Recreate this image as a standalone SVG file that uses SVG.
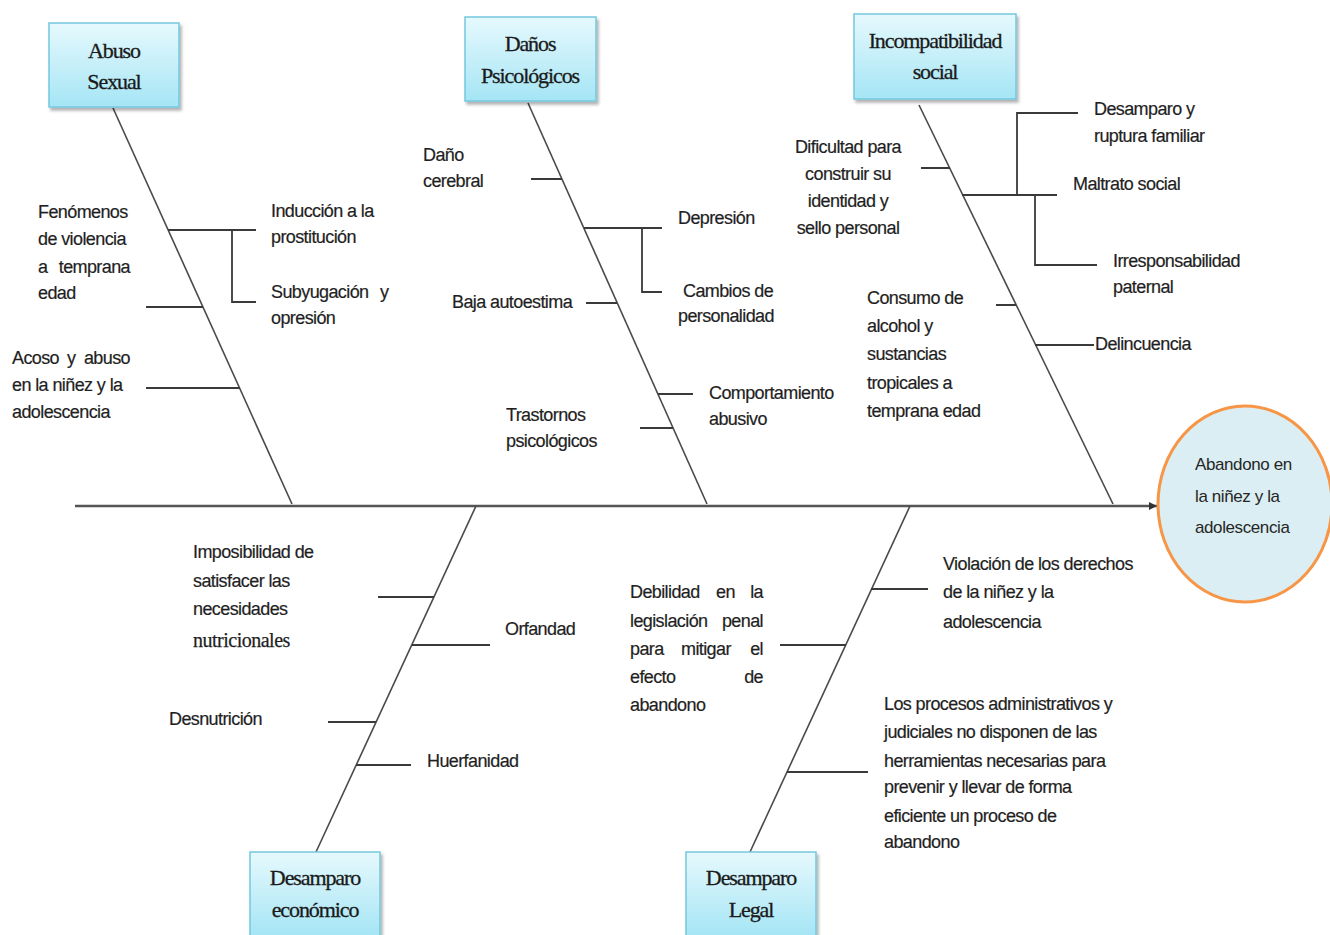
<svg xmlns="http://www.w3.org/2000/svg" width="1330" height="935" viewBox="0 0 1330 935">
<style>
.t{font-family:"Liberation Sans",Arial,sans-serif;font-size:18px;letter-spacing:-0.6px;fill:#1f1f1f;stroke:#1f1f1f;stroke-width:0.2}
.c{text-anchor:middle}
.e{text-anchor:end}
.bx{fill:url(#g);stroke:#74c7de;stroke-width:1.5;filter:url(#sh)}
.bt{font-family:"Liberation Serif","Times New Roman",serif;font-size:22px;letter-spacing:-1.1px;fill:#1a1a1a;stroke:#1a1a1a;stroke-width:0.3;text-anchor:middle}
.sr{font-family:"Liberation Serif","Times New Roman",serif;font-size:20px;letter-spacing:-0.5px;fill:#1f1f1f;stroke:#1f1f1f;stroke-width:0.25}
.ln{fill:none;stroke:#3a3a3a;stroke-width:1.8}
.bn{fill:none;stroke:#4a4a4a;stroke-width:1.6}
.sp{fill:none;stroke:#555;stroke-width:2.6}
.ct{font-family:"Liberation Sans",Arial,sans-serif;font-size:17px;letter-spacing:-0.4px;fill:#262626}
</style>
<defs>
<linearGradient id="g" x1="0" y1="0" x2="0" y2="1">
<stop offset="0" stop-color="#e6f9fd"/>
<stop offset="1" stop-color="#a5e5f5"/>
</linearGradient>
<filter id="sh" x="-10%" y="-10%" width="130%" height="130%">
<feDropShadow dx="2" dy="3" stdDeviation="1.5" flood-color="#000" flood-opacity="0.3"/>
</filter>
<marker id="ar" markerWidth="10" markerHeight="10" refX="8" refY="4" orient="auto" markerUnits="userSpaceOnUse">
<path d="M0,0 L8,4 L0,8 z" fill="#333"/>
</marker>
</defs>
<rect width="1330" height="935" fill="#fff"/>

<g id="connectors">
<path class="sp" d="M75 506 H1157" marker-end="url(#ar)"/>
<path class="bn" d="M113 108 L292 504"/>
<path class="bn" d="M528 103 L707 504"/>
<path class="bn" d="M919 105 L1113 504"/>
<path class="bn" d="M476 506 L316 852"/>
<path class="bn" d="M910 506 L750 852"/>
<path class="ln" d="M168 230 H256 M232 230 V302 H256 M146 307 H203 M146 388 H240"/>
<path class="ln" d="M531 179 H562 M584 228 H662 M642 228 V292 H662 M586 303 H617 M658 394 H693 M640 428 H673"/>
<path class="ln" d="M921 168 H950 M962 195 H1057 M1017 195 V113 H1078 M1035 195 V265 H1097 M996 305 H1016 M1035 345 H1094"/>
<path class="ln" d="M378 597 H434 M412 645 H490 M328 722 H376 M356 765 H411"/>
<path class="ln" d="M871 589 H928 M780 645 H846 M787 772 H868"/>
</g>

<g id="head">
<ellipse cx="1245" cy="504" rx="87" ry="98" fill="#daeef3" stroke="#f79646" stroke-width="3"/>
<text class="ct" x="1195" y="470">Abandono en</text>
<text class="ct" x="1195" y="502">la niñez y la</text>
<text class="ct" x="1195" y="533">adolescencia</text>
</g>

<g id="abuso-sexual">
<rect class="bx" x="49" y="23" width="130" height="84"/>
<text class="bt" x="114" y="58">Abuso</text>
<text class="bt" x="114" y="89">Sexual</text>
</g>
<g id="abuso-labels">
<text class="t" x="271" y="217">Inducción a la</text>
<text class="t" x="271" y="243">prostitución</text>
<text class="t" x="271" y="298">Subyugación</text>
<text class="t" x="380" y="298">y</text>
<text class="t" x="271" y="324">opresión</text>
<text class="t" x="38" y="218">Fenómenos</text>
<text class="t" x="38" y="245">de violencia</text>
<text class="t" x="38" y="273">a</text>
<text class="t e" x="130" y="273">temprana</text>
<text class="t" x="38" y="299">edad</text>
<text class="t" x="12" y="364">Acoso</text>
<text class="t" x="67" y="364">y</text>
<text class="t e" x="130" y="364">abuso</text>
<text class="t" x="12" y="391">en la niñez y la</text>
<text class="t" x="12" y="418">adolescencia</text>
</g>

<g id="danos-psicologicos">
<rect class="bx" x="465" y="17" width="131" height="84"/>
<text class="bt" x="530" y="51">Daños</text>
<text class="bt" x="530" y="83">Psicológicos</text>
</g>
<g id="danos-labels">
<text class="t" x="423" y="161">Daño</text>
<text class="t" x="423" y="187">cerebral</text>
<text class="t" x="678" y="224">Depresión</text>
<text class="t" x="683" y="297">Cambios de</text>
<text class="t" x="678" y="322">personalidad</text>
<text class="t" x="452" y="308">Baja autoestima</text>
<text class="t" x="709" y="399">Comportamiento</text>
<text class="t" x="709" y="425">abusivo</text>
<text class="t" x="506" y="421">Trastornos</text>
<text class="t" x="506" y="447">psicológicos</text>
</g>

<g id="incompatibilidad-social">
<rect class="bx" x="854" y="14" width="162" height="85"/>
<text class="bt" x="935" y="48">Incompatibilidad</text>
<text class="bt" x="935" y="79">social</text>
</g>
<g id="incompatibilidad-labels">
<text class="t c" x="848" y="153">Dificultad para</text>
<text class="t c" x="848" y="180">construir su</text>
<text class="t c" x="848" y="207">identidad y</text>
<text class="t c" x="848" y="234">sello personal</text>
<text class="t" x="1094" y="115">Desamparo y</text>
<text class="t" x="1094" y="142">ruptura familiar</text>
<text class="t" x="1073" y="190">Maltrato social</text>
<text class="t" x="1113" y="267">Irresponsabilidad</text>
<text class="t" x="1113" y="293">paternal</text>
<text class="t" x="867" y="304">Consumo de</text>
<text class="t" x="867" y="332">alcohol y</text>
<text class="t" x="867" y="360">sustancias</text>
<text class="t" x="867" y="389">tropicales a</text>
<text class="t" x="867" y="417">temprana edad</text>
<text class="t" x="1095" y="350">Delincuencia</text>
</g>

<g id="desamparo-economico">
<rect class="bx" x="250" y="852" width="130" height="84"/>
<text class="bt" x="315" y="885">Desamparo</text>
<text class="bt" x="315" y="917">económico</text>
</g>
<g id="economico-labels">
<text class="t" x="193" y="558">Imposibilidad de</text>
<text class="t" x="193" y="587">satisfacer las</text>
<text class="t" x="193" y="615">necesidades</text>
<text class="sr" x="193" y="647">nutricionales</text>
<text class="t" x="505" y="635">Orfandad</text>
<text class="t" x="169" y="725">Desnutrición</text>
<text class="t" x="427" y="767">Huerfanidad</text>
</g>

<g id="desamparo-legal">
<rect class="bx" x="686" y="852" width="130" height="84"/>
<text class="bt" x="751" y="885">Desamparo</text>
<text class="bt" x="751" y="917">Legal</text>
</g>
<g id="legal-labels">
<text class="t" x="943" y="570">Violación de los derechos</text>
<text class="t" x="943" y="598">de la niñez y la</text>
<text class="t" x="943" y="628">adolescencia</text>
<text class="t" x="630" y="598">Debilidad</text>
<text class="t" x="716" y="598">en</text>
<text class="t e" x="763" y="598">la</text>
<text class="t" x="630" y="627">legislación</text>
<text class="t e" x="763" y="627">penal</text>
<text class="t" x="630" y="655">para</text>
<text class="t" x="681" y="655">mitigar</text>
<text class="t e" x="763" y="655">el</text>
<text class="t" x="630" y="683">efecto</text>
<text class="t e" x="763" y="683">de</text>
<text class="t" x="630" y="711">abandono</text>
<text class="t" x="884" y="710">Los procesos administrativos y</text>
<text class="t" x="884" y="738">judiciales no disponen de las</text>
<text class="t" x="884" y="767">herramientas necesarias para</text>
<text class="t" x="884" y="793">prevenir y  llevar de forma</text>
<text class="t" x="884" y="822">eficiente un proceso de</text>
<text class="t" x="884" y="848">abandono</text>
</g>
</svg>
